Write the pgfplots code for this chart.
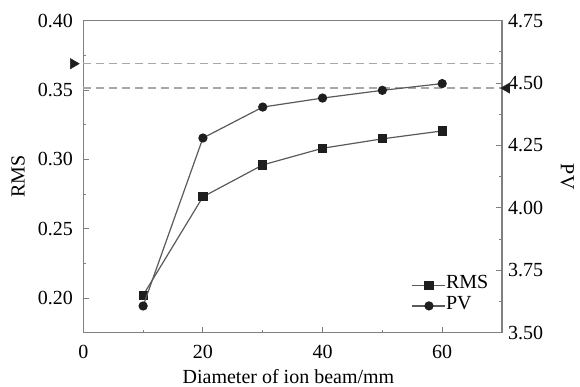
\documentclass[border=0pt]{standalone}
\usepackage{pgfplots}
\pgfplotsset{compat=1.18}
\usepackage{fontspec}
\setmainfont{Liberation Serif}
\definecolor{axgray}{HTML}{808080}
\definecolor{datgray}{HTML}{5A5A5A}
\definecolor{dashgray}{HTML}{A8A8A8}
\definecolor{markblk}{HTML}{1E1E1E}
\newcommand{\bigfont}{\fontsize{20}{22}\selectfont}
\pgfplotsset{
  common/.style={
    scale only axis, width=418.7pt, height=312pt,
    xmin=0, xmax=70, clip=false,
    tick align=inside,
    major tick length=6pt, minor tick length=3pt,
    every tick/.style={axgray, line width=1pt},
    axis line style={axgray, line width=1.3pt},
    tick label style={font=\bigfont, black},
    label style={font=\bigfont},
    /pgf/number format/assume math mode=true,
  }
}
\begin{document}
\begin{tikzpicture}
\begin{axis}[common, name=ax1,
  ymin=0.175, ymax=0.40,
  xtick={0,20,40,60}, minor xtick={10,30,50},
  ytick={0.20,0.25,0.30,0.35,0.40}, minor ytick={0.225,0.275,0.325,0.375},
  xtick pos=left, ytick pos=left,
  yticklabel style={/pgf/number format/fixed, /pgf/number format/fixed zerofill, /pgf/number format/precision=2,
    /tikz/inner sep=0pt, /tikz/anchor=east, /tikz/xshift=-10.3pt},
  xticklabel style={inner sep=0pt, anchor=north, yshift=-12.3pt},
  xlabel={Diameter of ion beam/mm},
  xlabel style={at={(axis description cs:0.49,0)}, anchor=base, inner sep=0pt, yshift=-51pt},
  ylabel={RMS},
  ylabel style={at={(axis description cs:-0.156,0.5)}, anchor=center},
]
\addplot[dashgray, line width=1.3pt, dash pattern=on 8pt off 5pt] coordinates {(0,0.369) (70,0.369)};
\addplot[dashgray, line width=1.3pt, dash pattern=on 8pt off 5pt] coordinates {(0,0.3515) (70,0.3515)};
\addplot[datgray, line width=1.2pt, mark=square*, mark size=4pt, mark options={fill=markblk, draw=markblk, solid}]
  coordinates {(10,0.202) (20,0.273) (30,0.296) (40,0.308) (50,0.3148) (60,0.3205)};
\addplot[only marks, mark=triangle*, mark size=6pt, mark options={rotate=-90, fill=markblk, draw=markblk}]
  coordinates {(-1.67,0.369)};
\end{axis}
\begin{axis}[common,
  ymin=3.50, ymax=4.75,
  axis x line=none, axis y line*=right,
  ytick={3.50,3.75,4.00,4.25,4.50,4.75}, minor ytick={3.625,3.875,4.125,4.375,4.625},
  yticklabel style={/pgf/number format/fixed, /pgf/number format/fixed zerofill, /pgf/number format/precision=2,
    /tikz/inner sep=0pt, /tikz/anchor=west, /tikz/xshift=6pt},
  ylabel={PV},
  ylabel style={at={(axis description cs:1.156,0.5)}, anchor=center, rotate=180},
  legend style={draw=none, fill=none, inner sep=0pt, row sep=0pt,
    at={(0.7843,0.186)}, anchor=north west, font=\bigfont,
    nodes={inner sep=0pt, text height=14pt, text depth=6.7pt}},
  legend cell align=left,
  legend image code/.code={\draw[mark repeat=2, mark phase=2, #1] plot coordinates {(0pt,0pt) (16.5pt,0pt) (33pt,0pt)};},
  /tikz/every even column/.append style={column sep=3pt},
]
\addlegendimage{datgray, line width=1.2pt, mark=square*, mark size=4pt, mark options={fill=markblk, draw=markblk, solid}}
\addplot[datgray, line width=1.2pt, mark=*, mark size=4pt, mark options={fill=markblk, draw=markblk, solid}]
  coordinates {(10,3.607) (20,4.28) (30,4.404) (40,4.44) (50,4.471) (60,4.498)};
\addplot[only marks, mark=triangle*, mark size=6pt, mark options={rotate=90, fill=markblk, draw=markblk}, forget plot]
  coordinates {(70.8,4.48)};
\legend{RMS, PV}
\end{axis}
\pgfresetboundingbox
\path ([shift={(-83.3pt,-54.3pt)}]ax1.south west) rectangle ([shift={(496.7pt,332.7pt)}]ax1.south west);
\end{tikzpicture}
\end{document}
